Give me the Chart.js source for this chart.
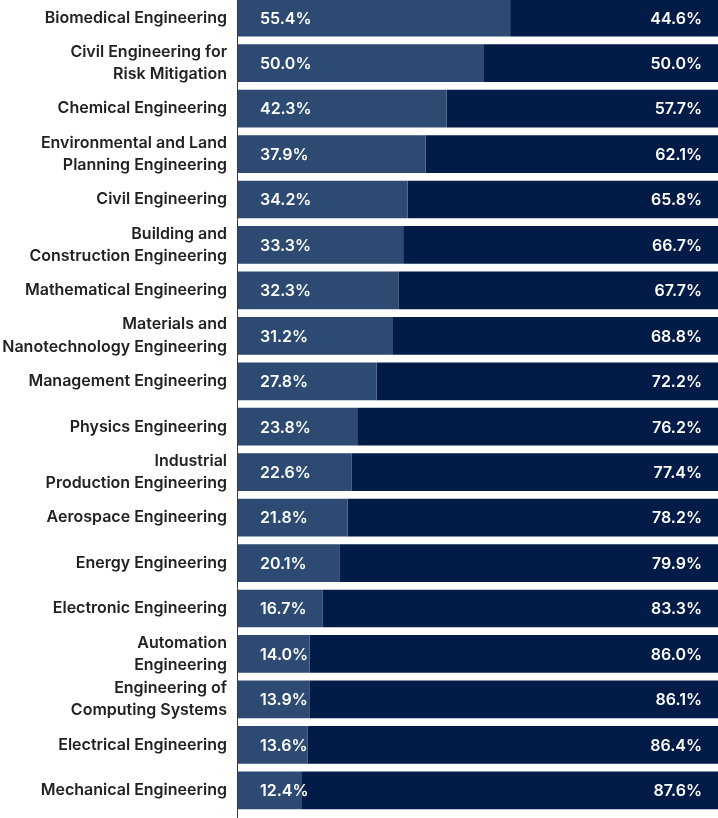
<!DOCTYPE html>
<html>
<head>
<meta charset="utf-8">
<script src="https://cdn.jsdelivr.net/npm/chart.js@4.4.1/dist/chart.umd.min.js"></script>
<style>
  html, body { margin: 0; padding: 0; background: #ffffff; overflow: hidden; width: 718px; height: 818px; }
  #wrap { position: absolute; left: 0; top: -5px; width: 726px; height: 824px; }
</style>
</head>
<body>
<div id="wrap"><canvas id="c" width="726" height="824"></canvas></div>
<script>
const categories = [
  "Biomedical Engineering",
  ["Civil Engineering for", "Risk Mitigation"],
  "Chemical Engineering",
  ["Environmental and Land", "Planning Engineering"],
  "Civil Engineering",
  ["Building and", "Construction Engineering"],
  "Mathematical Engineering",
  ["Materials and", "Nanotechnology Engineering"],
  "Management Engineering",
  "Physics Engineering",
  ["Industrial", "Production Engineering"],
  "Aerospace Engineering",
  "Energy Engineering",
  "Electronic Engineering",
  ["Automation", "Engineering"],
  ["Engineering of", "Computing Systems"],
  "Electrical Engineering",
  "Mechanical Engineering"
];
const shareA = [55.4, 50.0, 42.3, 37.9, 34.2, 33.3, 32.3, 31.2, 27.8, 23.8, 22.6, 21.8, 20.1, 16.7, 14.0, 13.9, 13.6, 12.4];
const shareB = [44.6, 50.0, 57.7, 62.1, 65.8, 66.7, 67.7, 68.8, 72.2, 76.2, 77.4, 78.2, 79.9, 83.3, 86.0, 86.1, 86.4, 87.6];

const AXIS_MIN = -0.826;
const FONT = "Inter, 'Noto Sans', sans-serif";

const labelPlugin = {
  id: 'barLabels',
  afterDatasetsDraw(chart) {
    const ctx = chart.ctx;
    ctx.save();
    ctx.fillStyle = '#ffffff';
    ctx.font = "600 16px " + FONT;
    ctx.textBaseline = 'middle';
    chart.data.datasets.forEach((ds, di) => {
      const meta = chart.getDatasetMeta(di);
      meta.data.forEach((bar, i) => {
        const txt = ds.data[i].toFixed(1) + '%';
        if (di === 0) {
          ctx.textAlign = 'left';
          ctx.fillText(txt, chart.scales.x.getPixelForValue(0) + 18, bar.y + 1);
        } else {
          ctx.textAlign = 'right';
          ctx.fillText(txt, bar.x - 24, bar.y + 1);
        }
      });
    });
    ctx.restore();
  }
};

const axisLinePlugin = {
  id: 'axisLine',
  afterDraw(chart) {
    const ctx = chart.ctx;
    const x = Math.round(chart.chartArea.left) - 0.5;
    ctx.save();
    ctx.strokeStyle = '#3a3a3a';
    ctx.lineWidth = 1;
    ctx.beginPath();
    ctx.moveTo(x, 0);
    ctx.lineTo(x, chart.height);
    ctx.stroke();
    ctx.restore();
  }
};

new Chart(document.getElementById('c'), {
  type: 'bar',
  data: {
    labels: categories,
    datasets: [
      { data: shareA, backgroundColor: '#2c4a72', base: AXIS_MIN, barPercentage: 0.83, categoryPercentage: 1.0 },
      { data: shareB, backgroundColor: '#021b47', barPercentage: 0.83, categoryPercentage: 1.0 }
    ]
  },
  options: {
    indexAxis: 'y',
    responsive: false,
    animation: false,
    devicePixelRatio: 1,
    layout: { padding: { top: 0, right: 0, bottom: 6, left: 0 } },
    plugins: { legend: { display: false }, title: { display: false }, tooltip: { enabled: false } },
    scales: {
      x: {
        stacked: true,
        min: AXIS_MIN,
        max: 100,
        display: false
      },
      y: {
        stacked: true,
        grid: { display: false, drawTicks: false },
        border: { display: false },
        afterFit(scale) { scale.width = 238; scale.paddingTop = 0; scale.paddingBottom = 0; },
        ticks: {
          autoSkip: false,
          color: '#222222',
          padding: 11,
          font: { family: FONT, size: 16, weight: '600', lineHeight: 1.4 }
        }
      }
    }
  },
  plugins: [labelPlugin, axisLinePlugin]
});
</script>
</body>
</html>
